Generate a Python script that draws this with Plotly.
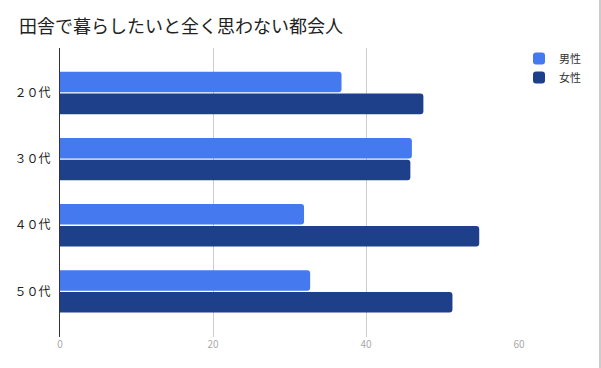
import plotly.graph_objects as go

categories = ["２０代", "３０代", "４０代", "５０代"]
male = [36.8, 46.0, 31.9, 32.7]
female = [47.5, 45.8, 54.8, 51.3]
series_names = ["男性", "女性"]
x_ticks = [0, 20, 40, 60]

W, H = 601, 368
ML, MR, MT, MB = 60, 82, 48, 31
pw = W - ML - MR
ph = H - MT - MB

fig = go.Figure()
fig.add_trace(go.Bar(y=categories, x=male, orientation="h", name=series_names[0],
                     marker=dict(color="#4479ef", line=dict(width=0))))
fig.add_trace(go.Bar(y=categories, x=female, orientation="h", name=series_names[1],
                     marker=dict(color="#1e3f8a", line=dict(width=0))))

font = "Noto Sans CJK JP, Noto Sans, sans-serif"
fig.update_layout(
    width=W, height=H,
    margin=dict(l=ML, r=MR, t=MT, b=MB, pad=0),
    paper_bgcolor="white", plot_bgcolor="white",
    font=dict(family=font, color="#222"),
    barmode="group", bargap=0.34, bargroupgap=0.06, barcornerradius=3,
    title=dict(text="田舎で暮らしたいと全く思わない都会人", x=19 / W, xanchor="left",
               y=1 - 27 / H, yanchor="middle", font=dict(size=18, color="#222", family=font)),
    xaxis=dict(range=[0, 60], tickvals=x_ticks, showgrid=True, gridcolor="#cccccc", gridwidth=1,
               zeroline=False, showline=False, tickfont=dict(size=10, color="#aaaaaa"),
               ticks="", fixedrange=True),
    yaxis=dict(type="category", categoryorder="array", categoryarray=categories,
               range=[3.69, -0.68], showline=True, linecolor="#333", linewidth=1,
               showgrid=False, zeroline=False, ticks="", ticklabelstandoff=6,
               tickfont=dict(size=12, color="#222")),
    legend=dict(x=1.0, xanchor="left", y=1 + 4 / ph, yanchor="top",
                font=dict(size=11, color="#333"), traceorder="normal",
                itemwidth=30, tracegroupgap=0, bgcolor="rgba(0,0,0,0)"),
    showlegend=True,
)
fig.add_shape(type="line", xref="paper", yref="paper",
              x0=(600 - ML) / pw, x1=(600 - ML) / pw, y0=-MB / ph, y1=1 + MT / ph,
              line=dict(color="#999999", width=1))
fig.write_html("out.html", config={"displayModeBar": False},
               post_script="document.body.style.margin='0';document.body.style.overflow='hidden';")
